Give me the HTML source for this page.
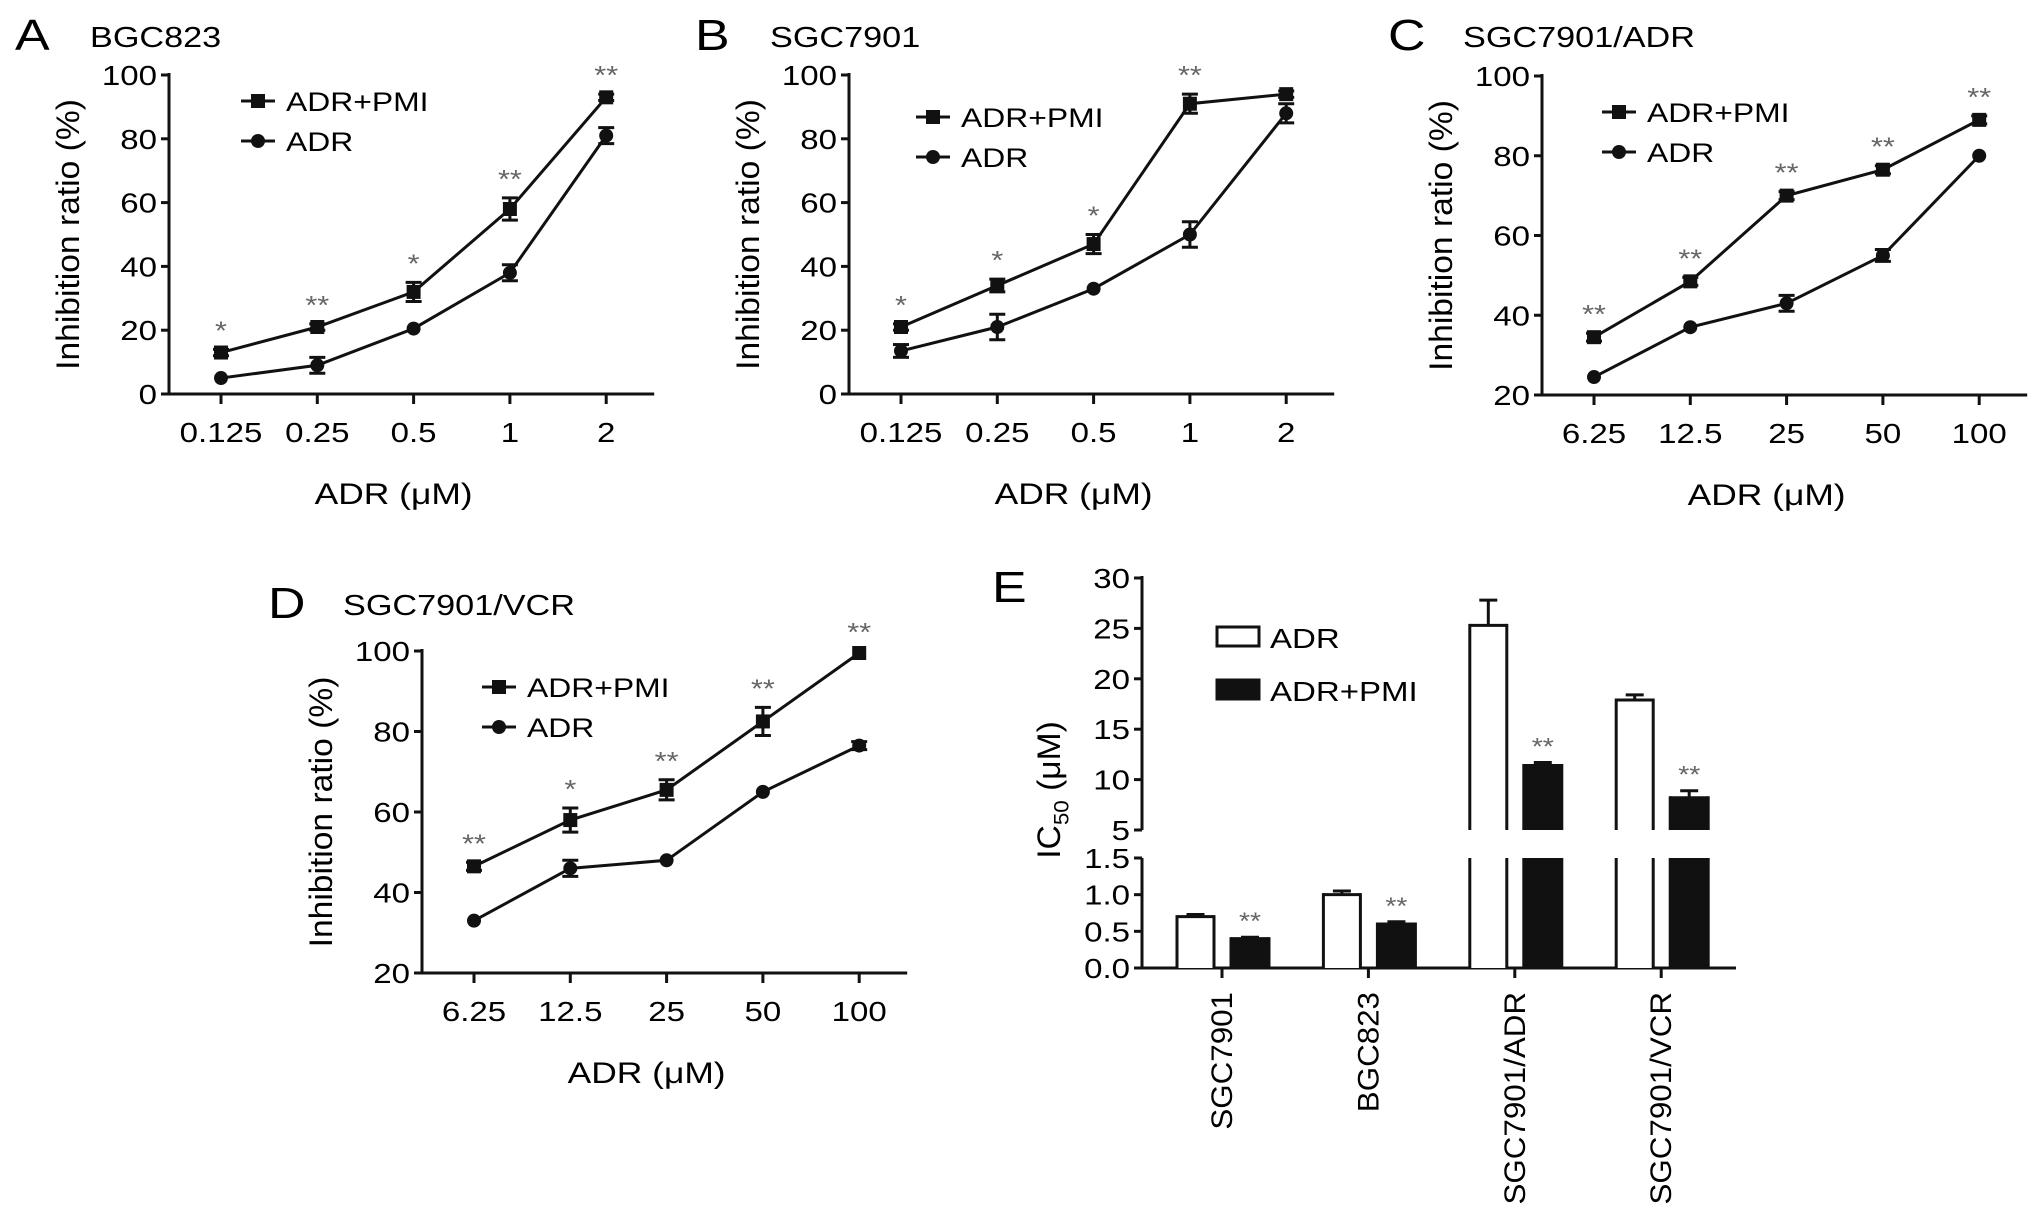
<!DOCTYPE html>
<html><head><meta charset="utf-8"><style>
html,body{margin:0;padding:0;background:#fff;}
svg{display:block;font-family:"Liberation Sans",Arial,sans-serif;}
</style></head><body>
<svg id="fig" width="2032" height="1225" viewBox="0 0 2032 1225"></svg>
<script>
// ---- data ----
const doseLow = ["0.125","0.25","0.5","1","2"];
const doseHigh = ["6.25","12.5","25","50","100"];
const aPMI = [13,21,32,58,93];      const aPMIerr = [1,1,3,3.5,1];
const aADR = [5,9,20.5,38,81];      const aADRerr = [0.5,2.5,0.5,2.5,2.5];
const aStars = ["*","**","*","**","**"];
const bPMI = [21,34,47,91,94];      const bPMIerr = [1,2,3,3,1];
const bADR = [13.5,21,33,50,88];    const bADRerr = [2,4,0.5,4,3];
const bStars = ["*","*","*","**",""];
const cPMI = [34.5,48.5,70,76.5,89]; const cPMIerr = [1,1,1,1,1];
const cADR = [24.5,37,43,55,80];    const cADRerr = [0.5,0.5,2,1.5,0.5];
const cStars = ["**","**","**","**","**"];
const dPMI = [46.5,58,65.5,82.5,99.5]; const dPMIerr = [1,3,2.5,3.5,0.5];
const dADR = [33,46,48,65,76.5];    const dADRerr = [0.5,2,0.5,0.5,1];
const dStars = ["**","*","**","**","**"];
const eCats = ["SGC7901","BGC823","SGC7901/ADR","SGC7901/VCR"];
const eADR = [0.7,1.0,25.3,17.9];   const eADRerr = [0.03,0.05,2.5,0.5];
const ePMI = [0.4,0.6,11.4,8.2];    const ePMIerr = [0.02,0.03,0.3,0.7];
const ePMIStars = ["**","**","**","**"];
const eTopTicks = [5,10,15,20,25,30];
const eBotTicks = ["0.0","0.5","1.0","1.5"];

const NS="http://www.w3.org/2000/svg";
const svg=document.getElementById('fig');
function el(tag,attrs,parent){const e=document.createElementNS(NS,tag);for(const k in attrs)e.setAttribute(k,attrs[k]);(parent||svg).appendChild(e);return e;}
function txt(parent,x,y,s,size,anchor,extra){
  const t=el('text',{x:0,y:0,'font-size':size,'text-anchor':anchor||'start',transform:`translate(${x},${y}) scale(1.18,1)`},parent);
  if(extra)for(const k in extra)t.setAttribute(k,extra[k]);
  t.textContent=s;return t;
}

function linePanel(cfg){
  const g=el('g',{});
  
  
  const X0=cfg.axisX, xs=i=>cfg.axisX+52+i*96.3, yTop=cfg.yTop, yBot=cfg.yBot;
  const ys=v=>yBot-(v-cfg.min)/(cfg.max-cfg.min)*(yBot-yTop);
  const L=txt(g,X0-154,cfg.letterY,cfg.letter,44,'start');
  
  const T=txt(g,X0-79,cfg.letterY-3,cfg.title,29,'start');
  
  const ya=el('line',{x1:X0,y1:yTop-2,x2:X0,y2:yBot,stroke:'#111','stroke-width':3},g);
  
  const xa=el('line',{x1:X0-4,y1:yBot,x2:xs(4)+48,y2:yBot,stroke:'#111','stroke-width':3},g);
  
  for(let v=cfg.min;v<=cfg.max;v+=20){
    el('line',{x1:X0-8,y1:ys(v),x2:X0,y2:ys(v),stroke:'#111','stroke-width':3},g);
    const t=txt(g,X0-12,ys(v)+10,String(v),28,'end');
    
  }
  cfg.cats.forEach((c,i)=>{
    el('line',{x1:xs(i),y1:yBot,x2:xs(i),y2:yBot+10,stroke:'#111','stroke-width':3},g);
    const t=txt(g,xs(i),yBot+48,c,28,'middle');
    
  });
  const xt=txt(g,xs(2)-20,yBot+110,'ADR (\u03bcM)',30,'middle');
  
  const yt=el('text',{x:0,y:0,'font-size':30,'text-anchor':'middle',transform:`translate(${X0-90},${(yTop+yBot)/2}) rotate(-90) scale(1.12,1.08)`},g);
  yt.textContent='Inhibition ratio (%)';
  
  const series=[[cfg.adr,cfg.adrErr,'circle','adr'],[cfg.pmi,cfg.pmiErr,'square','adr-pmi']];
  series.forEach(([vals,errs,shape,nm])=>{
    const pts=vals.map((v,i)=>xs(i)+','+ys(v)).join(' ');
    const pl=el('polyline',{points:pts,fill:'none',stroke:'#111','stroke-width':3},g);
    
    vals.forEach((v,i)=>{
      const x=xs(i),y=ys(v),e=errs[i];
      if(e>0.8){
        el('line',{x1:x,y1:ys(v+e),x2:x,y2:ys(v-e),stroke:'#111','stroke-width':3},g);
        el('line',{x1:x-8,y1:ys(v+e),x2:x+8,y2:ys(v+e),stroke:'#111','stroke-width':3},g);
        el('line',{x1:x-8,y1:ys(v-e),x2:x+8,y2:ys(v-e),stroke:'#111','stroke-width':3},g);
      }
      let m;
      if(shape==='square')m=el('rect',{x:x-7,y:y-7,width:14,height:14,fill:'#111'},g);
      else m=el('circle',{cx:x,cy:y,r:7,fill:'#111'},g);
      
    });
  });
  cfg.stars.forEach((s,i)=>{
    if(!s)return;
    const top=ys(cfg.pmi[i]+cfg.pmiErr[i]);
    const t=txt(g,xs(i),top-10,s,26,'middle',{fill:'#666'});
    
  });
  const lx=cfg.legX, ly=cfg.legY;
  [[ 'ADR+PMI','square',0],['ADR','circle',40]].forEach(([lab,sh,dy])=>{
    el('line',{x1:lx-14,y1:ly+dy,x2:lx+20,y2:ly+dy,stroke:'#111','stroke-width':3},g);
    if(sh==='square')el('rect',{x:lx-4,y:ly+dy-7,width:14,height:14,fill:'#111'},g);
    else el('circle',{cx:lx+3,cy:ly+dy,r:7,fill:'#111'},g);
    const t=txt(g,lx+31,ly+dy+10,lab,27,'start');
    
  });
}

linePanel({name:'panel-a-bgc823',letter:'A',title:'BGC823',letterY:50,axisX:169,yTop:75,yBot:394,min:0,max:100,cats:doseLow,pmi:aPMI,pmiErr:aPMIerr,adr:aADR,adrErr:aADRerr,stars:aStars,legX:255,legY:101});
linePanel({name:'panel-b-sgc7901',letter:'B',title:'SGC7901',letterY:50,axisX:849,yTop:75,yBot:394,min:0,max:100,cats:doseLow,pmi:bPMI,pmiErr:bPMIerr,adr:bADR,adrErr:bADRerr,stars:bStars,legX:930,legY:117});
linePanel({name:'panel-c-sgc7901-adr',letter:'C',title:'SGC7901/ADR',letterY:50,axisX:1542,yTop:76,yBot:395,min:20,max:100,cats:doseHigh,pmi:cPMI,pmiErr:cPMIerr,adr:cADR,adrErr:cADRerr,stars:cStars,legX:1616,legY:112});
linePanel({name:'panel-d-sgc7901-vcr',letter:'D',title:'SGC7901/VCR',letterY:618,axisX:422,yTop:651,yBot:973,min:20,max:100,cats:doseHigh,pmi:dPMI,pmiErr:dPMIerr,adr:dADR,adrErr:dADRerr,stars:dStars,legX:496,legY:687});

// ---- panel E ----
(function(){
  const g=el('g',{});
  
  
  const X0=1142, y30=578, y5=830, y15=858, y0=968;
  const yTopS=v=>y5-(v-5)/25*(y5-y30);
  const yBotS=v=>y0-v/1.5*(y0-y15);
  const ys=v=>v<=1.5?yBotS(v):yTopS(v);
  const gx=i=>1222+i*146.4;
  const L=txt(g,992,602,'E',44,'start');
  
  el('line',{x1:X0,y1:y30-2,x2:X0,y2:y5,stroke:'#111','stroke-width':3},g);
  el('line',{x1:X0,y1:y15,x2:X0,y2:y0,stroke:'#111','stroke-width':3},g);
  const xa=el('line',{x1:X0-4,y1:y0,x2:1736,y2:y0,stroke:'#111','stroke-width':3},g);
  
  eTopTicks.forEach(v=>{
    el('line',{x1:X0-8,y1:yTopS(v),x2:X0,y2:yTopS(v),stroke:'#111','stroke-width':3},g);
    const t=txt(g,X0-12,yTopS(v)+10,String(v),28,'end');
    
  });
  eBotTicks.forEach(s=>{
    const v=parseFloat(s);
    el('line',{x1:X0-8,y1:yBotS(v),x2:X0,y2:yBotS(v),stroke:'#111','stroke-width':3},g);
    const t=txt(g,X0-12,yBotS(v)+10,s,28,'end');
    
  });
  const yt=el('text',{x:0,y:0,'font-size':30,'text-anchor':'middle',transform:`translate(1060,790) rotate(-90) scale(1.12,1.08)`},g);
  
  yt.innerHTML='IC<tspan font-size="20" dy="8">50</tspan><tspan dy="-8"> (\u03bcM)</tspan>';
  function seg(x,w,a,b,fill,topEdge,nm){
    const r=el('rect',{x:x,y:a,width:w,height:b-a,fill:fill},g);
    
    el('line',{x1:x,y1:a-(topEdge?1.5:0),x2:x,y2:b,stroke:'#111','stroke-width':3},g);
    el('line',{x1:x+w,y1:a-(topEdge?1.5:0),x2:x+w,y2:b,stroke:'#111','stroke-width':3},g);
    if(topEdge)el('line',{x1:x,y1:a,x2:x+w,y2:a,stroke:'#111','stroke-width':3},g);
  }
  function bar(x,w,v,fill,nm){
    if(v<=1.5){seg(x,w,ys(v),y0,fill,true,nm);}
    else{seg(x,w,y15,y0,fill,false,nm);seg(x,w,yTopS(v),y5,fill,true,nm);}
  }
  eCats.forEach((c,i)=>{
    const cx=gx(i);
    el('line',{x1:cx,y1:y0,x2:cx,y2:y0+10,stroke:'#111','stroke-width':3},g);
    bar(cx-45,37,eADR[i],'#fff','bar-adr');
    bar(cx+9,38,ePMI[i],'#111','bar-adr-pmi');
    [[cx-26.5,eADR[i],eADRerr[i]],[cx+28,ePMI[i],ePMIerr[i]]].forEach(([x,v,e])=>{
      const top=ys(v+e);
      el('line',{x1:x,y1:ys(v),x2:x,y2:top,stroke:'#111','stroke-width':3},g);
      el('line',{x1:x-9,y1:top,x2:x+9,y2:top,stroke:'#111','stroke-width':3},g);
    });
    const st=txt(g,cx+28,ys(ePMI[i]+ePMIerr[i])-8,ePMIStars[i],24,'middle',{fill:'#666'});
    
    const lab=el('text',{x:0,y:0,'font-size':28,'text-anchor':'end',transform:`translate(${cx+10},992) rotate(-90) scale(1.12,1.05)`},g);
    lab.textContent=c;
    
  });
  const r1=el('rect',{x:1217,y:627,width:42,height:19,fill:'#fff',stroke:'#111','stroke-width':3},g);
  
  const t1=txt(g,1270,648,'ADR',28,'start');
  
  const r2=el('rect',{x:1217,y:680,width:42,height:19,fill:'#111',stroke:'#111','stroke-width':3},g);
  
  const t2=txt(g,1270,701,'ADR+PMI',28,'start');
  
})();
</script>
</body></html>
